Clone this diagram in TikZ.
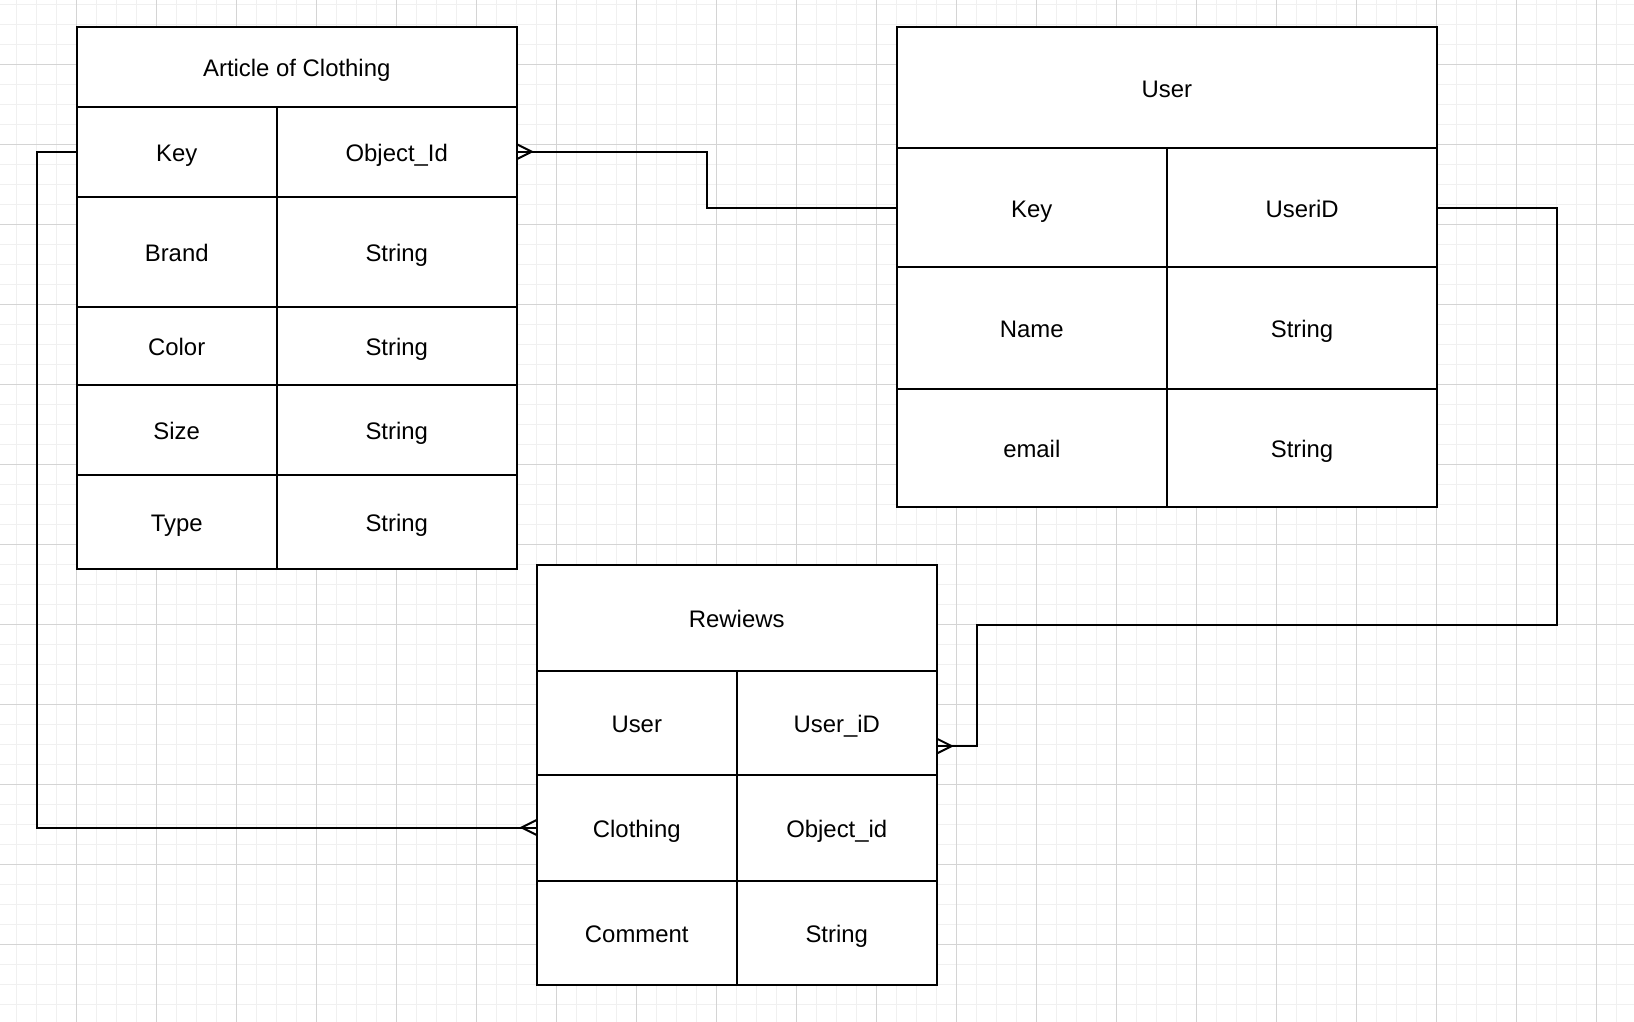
\documentclass[tikz,border=0pt]{standalone}
\usepackage{fontspec}
\setmainfont{Liberation Sans}
\usetikzlibrary{calc}
\definecolor{gridminor}{HTML}{F0F0F0}
\definecolor{gridmajor}{HTML}{D4D4D4}
\tikzset{
  cellbox/.style={draw=black, line width=2pt, fill=white, inner sep=0pt, outer sep=0pt,
    font=\fontsize{23.9}{28}\selectfont, text=black, text height=20pt, text depth=0pt},
  conn/.style={draw=black, line width=2pt},
  minorgrid/.style={draw=gridminor, line width=1pt},
  majorgrid/.style={draw=gridmajor, line width=1pt},
}
\newcommand\ercell[6]{\node[cellbox, minimum width={#4-#2}, minimum height={#5-#3}] (#1) at ({(#2+#4)/2},{(#3+#5)/2}) {#6};}
\newcommand\manyright[1]{\draw[conn] ($(#1)+(0,-7.5)$) -- ($(#1)+(15,0)$) -- ($(#1)+(0,7.5)$);}
\newcommand\manyleft[1]{\draw[conn] ($(#1)+(0,-7.5)$) -- ($(#1)+(-15,0)$) -- ($(#1)+(0,7.5)$);}
\begin{document}
\begin{tikzpicture}[x=1pt,y=-1pt]
\useasboundingbox (0,0) rectangle (1634,1022);
\fill[white] (0,0) rectangle (1634,1022);
% grid
\foreach \x in {16.7,36.7,...,1634} \draw[minorgrid] (\x,0) -- (\x,1022);
\foreach \y in {4.3,24.3,...,1022} \draw[minorgrid] (0,\y) -- (1634,\y);
\foreach \x in {76.7,156.7,...,1634} \draw[majorgrid] (\x,0) -- (\x,1022);
\foreach \y in {64.3,144.3,...,1022} \draw[majorgrid] (0,\y) -- (1634,\y);

% Article of Clothing
\ercell{aTitle}{76.7}{26.7}{516.8}{106.7}{Article of Clothing}
\ercell{aKey}{76.7}{106.7}{276.7}{196.7}{Key}
\ercell{aKeyT}{276.7}{106.7}{516.8}{196.7}{Object\_Id}
\ercell{aBrand}{76.7}{196.7}{276.7}{306.7}{Brand}
\ercell{aBrandT}{276.7}{196.7}{516.8}{306.7}{String}
\ercell{aColor}{76.7}{306.7}{276.7}{385}{Color}
\ercell{aColorT}{276.7}{306.7}{516.8}{385}{String}
\ercell{aSize}{76.7}{385}{276.7}{474.7}{Size}
\ercell{aSizeT}{276.7}{385}{516.8}{474.7}{String}
\ercell{aType}{76.7}{474.7}{276.7}{568.7}{Type}
\ercell{aTypeT}{276.7}{474.7}{516.8}{568.7}{String}

% User
\ercell{uTitle}{896.7}{26.7}{1437.2}{148.3}{User}
\ercell{uKey}{896.7}{148.3}{1166.9}{266.7}{Key}
\ercell{uId}{1166.9}{148.3}{1437.2}{266.7}{UseriD}
\ercell{uName}{896.7}{266.7}{1166.9}{388.7}{Name}
\ercell{uNameT}{1166.9}{266.7}{1437.2}{388.7}{String}
\ercell{uMail}{896.7}{388.7}{1166.9}{506.7}{email}
\ercell{uMailT}{1166.9}{388.7}{1437.2}{506.7}{String}

% Rewiews
\ercell{rTitle}{536.7}{564.8}{936.7}{670.7}{Rewiews}
\ercell{rUser}{536.7}{670.7}{736.8}{774.5}{User}
\ercell{rId}{736.8}{670.7}{936.7}{774.5}{User\_iD}
\ercell{rCl}{536.7}{774.5}{736.8}{880.5}{Clothing}
\ercell{rClT}{736.8}{774.5}{936.7}{880.5}{Object\_id}
\ercell{rCom}{536.7}{880.5}{736.8}{984.8}{Comment}
\ercell{rComT}{736.8}{880.5}{936.7}{984.8}{String}

% connectors
\coordinate (m1) at ($(aKeyT.east)!0.5!(uKey.west)$);
\draw[conn] (aKeyT.east) -| (m1) |- (uKey.west);
\manyright{aKeyT.east}

\coordinate (c2a) at (1557,625);
\coordinate (c2b) at (977,625);
\coordinate (rIdIn) at ($(rId.east)+(0,23.5)$);
\draw[conn] (uId.east) -| (c2a) -- (c2b) |- (rIdIn);
\manyright{rIdIn}

\coordinate (c3) at (36.8,500);
\draw[conn] (aKey.west) -| (c3) |- (rCl.west);
\manyleft{rCl.west}
\end{tikzpicture}
\end{document}
